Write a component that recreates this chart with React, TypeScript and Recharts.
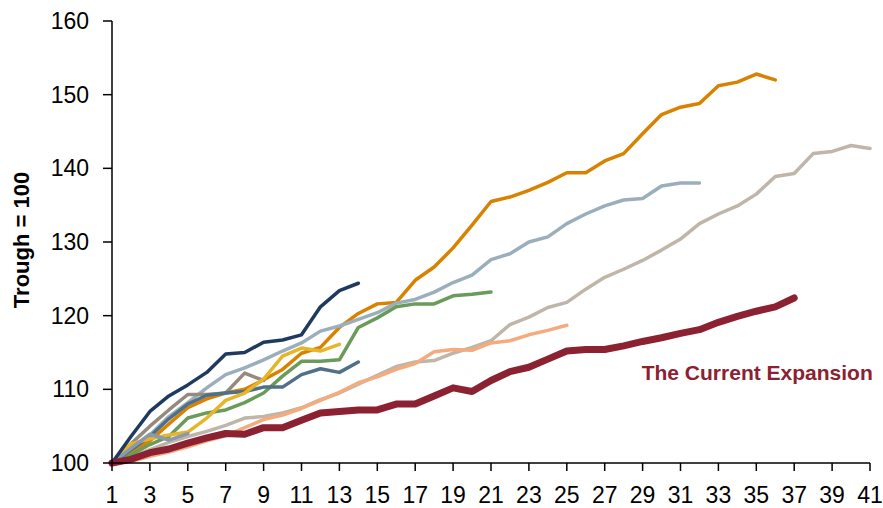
import { LineChart, Line, XAxis, YAxis, ReferenceDot } from "recharts";

const periods = [
  1, 2, 3, 4, 5, 6, 7, 8, 9, 10, 11, 12, 13, 14, 15, 16, 17, 18, 19, 20, 21,
  22, 23, 24, 25, 26, 27, 28, 29, 30, 31, 32, 33, 34, 35, 36, 37, 38, 39, 40, 41,
];
const xTicks = [1, 3, 5, 7, 9, 11, 13, 15, 17, 19, 21, 23, 25, 27, 29, 31, 33, 35, 37, 39, 41];
const yTicks = [100, 110, 120, 130, 140, 150, 160];

// each past expansion, indexed from the trough (= 100)
const beige = [
  100, 100.8, 101.8, 102.8, 103.6, 104.3, 105.1, 106.1, 106.3, 106.8, 107.5,
  108.6, 109.5, 110.7, 111.9, 113.1, 113.7, 113.9, 114.9, 115.7, 116.6, 118.8,
  119.8, 121.1, 121.8, 123.6, 125.2, 126.3, 127.5, 128.9, 130.4, 132.5, 133.8,
  134.9, 136.5, 138.9, 139.3, 142.0, 142.3, 143.1, 142.7,
];
const salmon = [
  100, 100.2, 100.9, 101.5, 102.2, 103.0, 103.7, 104.8, 105.9, 106.5, 107.4,
  108.5, 109.6, 110.9, 111.7, 112.7, 113.5, 115.1, 115.4, 115.3, 116.3, 116.6,
  117.4, 118.0, 118.7,
];
const orange = [
  100, 101.5, 103.0, 105.3, 107.5, 108.7, 109.5, 110.0, 111.3, 112.7, 114.9,
  115.7, 118.4, 120.3, 121.6, 121.8, 124.8, 126.6, 129.2, 132.3, 135.5, 136.1,
  137.0, 138.1, 139.4, 139.4, 141.0, 142.0, 144.7, 147.3, 148.3, 148.8, 151.2,
  151.7, 152.8, 152.0,
];
const lightBlue = [
  100, 102.0, 103.8, 106.3, 108.2, 110.2, 112.0, 112.9, 114.0, 115.2, 116.3,
  117.9, 118.6, 119.5, 120.4, 121.7, 122.2, 123.2, 124.5, 125.5, 127.6, 128.4,
  130.0, 130.7, 132.5, 133.8, 134.9, 135.7, 135.9, 137.6, 138.0, 138.0,
];
const green = [
  100, 101.1, 102.5, 103.6, 106.1, 106.8, 107.2, 108.2, 109.5, 111.8, 113.8,
  113.8, 114.0, 118.4, 119.7, 121.2, 121.6, 121.6, 122.7, 122.9, 123.2,
];
const taupe = [100, 102.6, 105.0, 107.2, 109.3, 109.3, 109.5, 112.2, 111.2];
const shortGrey = [100, 102.0, 103.9, 103.1, 104.0];
const slate = [
  100, 101.8, 103.6, 106.0, 108.0, 109.2, 109.5, 109.7, 110.3, 110.3, 112.0,
  112.8, 112.3, 113.7,
];
const gold = [
  100, 102.6, 103.3, 103.8, 104.2, 106.1, 108.5, 109.5, 111.4, 114.5, 115.6,
  115.2, 116.1,
];
const navy = [
  100, 103.6, 107.0, 109.1, 110.6, 112.3, 114.8, 115.0, 116.4, 116.7, 117.4,
  121.2, 123.4, 124.4,
];
const current = [
  100, 100.5, 101.4, 101.9, 102.7, 103.4, 104.0, 103.9, 104.8, 104.8, 105.8,
  106.8, 107.0, 107.2, 107.2, 108.0, 108.0, 109.1, 110.2, 109.7, 111.2, 112.4,
  113.0, 114.1, 115.2, 115.4, 115.4, 115.9, 116.5, 117.0, 117.6, 118.1, 119.1,
  119.9, 120.6, 121.2, 122.4,
];

const series = [
  { key: "beige", values: beige, color: "#BFB5A9", width: 3.5 },
  { key: "salmon", values: salmon, color: "#F4AB7E", width: 3.5 },
  { key: "orange", values: orange, color: "#D98200", width: 3.5 },
  { key: "lightBlue", values: lightBlue, color: "#9AAEBC", width: 3.5 },
  { key: "green", values: green, color: "#6A9B5A", width: 3.5 },
  { key: "taupe", values: taupe, color: "#968A7C", width: 3.5 },
  { key: "slate", values: slate, color: "#4F7089", width: 3.5 },
  { key: "gold", values: gold, color: "#E6B52A", width: 3.5 },
  { key: "shortGrey", values: shortGrey, color: "#8A9AAE", width: 3.5 },
  { key: "navy", values: navy, color: "#1F3A5F", width: 3.5 },
  { key: "current", values: current, color: "#8B2131", width: 7 },
];

const data = periods.map((p, i) => {
  const row: Record<string, number | undefined> = { period: p };
  series.forEach((s) => {
    row[s.key] = s.values[i];
  });
  return row;
});

const font = "'Liberation Sans', Arial, sans-serif";
const tickStyle = { fill: "#000", fontSize: 23, fontFamily: font };

const YTitle = () => (
  <text
    transform="translate(29,240) rotate(-90)"
    textAnchor="middle"
    fontFamily={font}
    fontSize={22}
    fontWeight="bold"
    fill="#000"
  >
    Trough = 100
  </text>
);

const App = () => (
  <div style={{ position: "absolute", left: 0, top: 0 }}>
    <LineChart
      width={883}
      height={508}
      data={data}
      margin={{ top: 21, right: 13, bottom: 0, left: 0 }}
    >
      <XAxis
        dataKey="period"
        type="number"
        domain={[1, 41]}
        ticks={xTicks}
        interval={0}
        height={45}
        tickSize={8}
        tickMargin={16}
        tick={tickStyle}
        axisLine={{ stroke: "#000", strokeWidth: 1.5 }}
        tickLine={{ stroke: "#000", strokeWidth: 1.5 }}
      />
      <YAxis
        type="number"
        domain={[100, 160]}
        ticks={yTicks}
        interval={0}
        width={112}
        tickSize={9}
        tickMargin={14}
        tick={tickStyle}
        axisLine={{ stroke: "#000", strokeWidth: 1.5 }}
        tickLine={{ stroke: "#000", strokeWidth: 1.5 }}
        label={{ content: () => <YTitle /> }}
      />
      {series.map((s) => (
        <Line
          key={s.key}
          dataKey={s.key}
          stroke={s.color}
          strokeWidth={s.width}
          strokeLinejoin="round"
          strokeLinecap="round"
          dot={false}
          activeDot={false}
          isAnimationActive={false}
        />
      ))}
      <ReferenceDot
        x={28.9}
        y={112.3}
        r={1}
        fill="none"
        stroke="none"
        label={{
          value: "The Current Expansion",
          position: "right",
          offset: 0,
          fill: "#8B2131",
          fontSize: 21,
          fontWeight: "bold",
          fontFamily: font,
        }}
      />
    </LineChart>
  </div>
);

export default App;
